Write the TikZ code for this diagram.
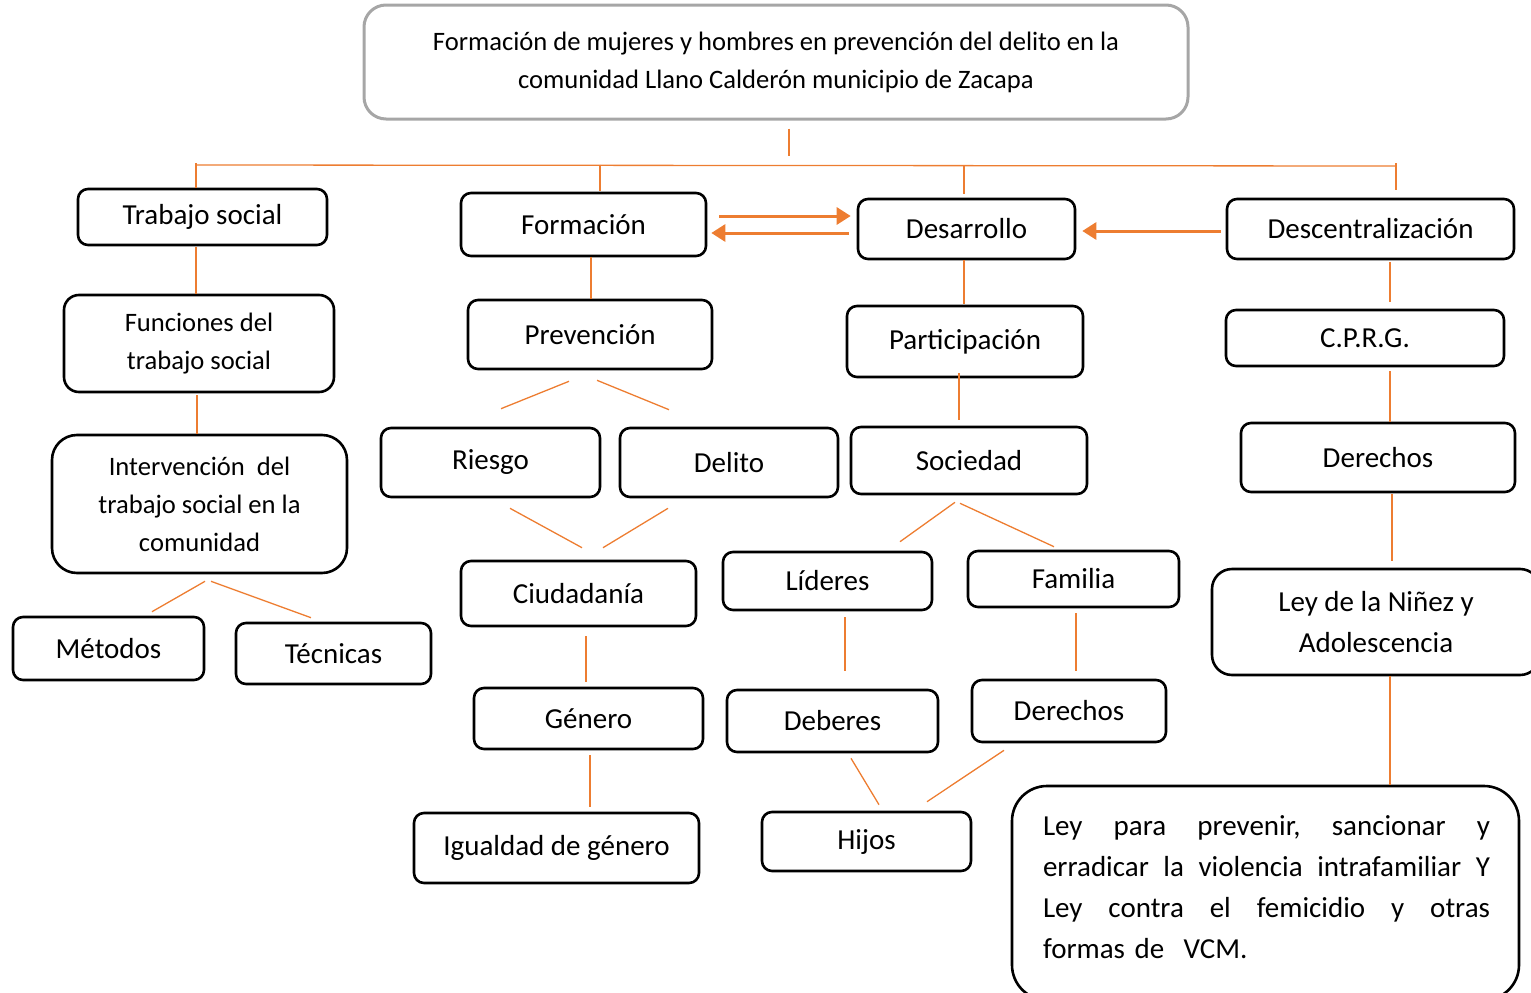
\documentclass[tikz,border=0pt]{standalone}
\usepackage{fontspec}
\setmainfont{Carlito}
\usetikzlibrary{calc,arrows.meta}
\definecolor{org}{HTML}{ED7D31}
\definecolor{tgray}{HTML}{A6A6A6}
\tikzset{
 box/.style={draw=black, line width=2.6pt, rounded corners=10pt, align=center, inner sep=0pt, font=\fontsize{29}{41}\selectfont},
 sbox/.style={box, font=\fontsize{26.6}{38}\selectfont},
 conn/.style={draw=org, line width=1.3pt},
 arr/.style={draw=org, line width=3pt, -{Triangle[length=14pt,width=17pt]}},
}
\begin{document}
\begin{tikzpicture}[x=1pt,y=-1pt]
\useasboundingbox (0,0) rectangle (1531,993);
% title
\node[draw=tgray, line width=3pt, rounded corners=22pt, minimum width=824pt, minimum height=114pt, align=center, inner sep=0pt, font=\fontsize{26.6}{38}\selectfont] (title) at (776,62) {Formación de mujeres y hombres en prevención del delito en la\\comunidad Llano Calderón municipio de Zacapa};
% level 1
\node[box, minimum width=249pt, minimum height=56pt] (trab) at (202.5,217) {Trabajo social};
\node[box, minimum width=245pt, minimum height=63pt] (form) at (583.5,224.5) {Formación};
\node[box, minimum width=217pt, minimum height=60pt] (des) at (966.5,229) {Desarrollo};
\node[box, minimum width=287pt, minimum height=60pt] (desc) at (1370.5,229) {Descentralización};
% level 2
\node[sbox, minimum width=270pt, minimum height=97pt, rounded corners=15pt] (func) at (199,343.5) {Funciones del\\trabajo social};
\node[box, minimum width=244pt, minimum height=69pt] (prev) at (590,334.5) {Prevención};
\node[box, minimum width=236pt, minimum height=71pt] (part) at (965,341.5) {Participación};
\node[box, minimum width=278pt, minimum height=56pt] (cprg) at (1365,338) {C.P.R.G.};
% level 3
\node[sbox, minimum width=295pt, minimum height=138pt, rounded corners=25pt] (inter) at (199.5,504) {Intervención\ \ del\\trabajo social en la\\comunidad};
\node[box, minimum width=219pt, minimum height=69pt] (ries) at (490.5,462.5) {Riesgo};
\node[box, minimum width=218pt, minimum height=69pt] (del) at (729,462.5) {Delito};
\node[box, minimum width=236pt, minimum height=67pt] (soc) at (969,460.5) {Sociedad};
\node[box, minimum width=274pt, minimum height=69pt] (der1) at (1378,457.5) {Derechos};
% level 4
\node[box, minimum width=191pt, minimum height=63pt] (met) at (108.5,648.5) {Métodos};
\node[box, minimum width=195pt, minimum height=61pt] (tec) at (333.5,653.5) {Técnicas};
\node[box, minimum width=235pt, minimum height=65pt] (ciud) at (578.5,593.5) {Ciudadanía};
\node[box, minimum width=209pt, minimum height=58pt] (lid) at (827.5,581) {Líderes};
\node[box, minimum width=211pt, minimum height=56pt] (fam) at (1073.5,579) {Familia};
\node[box, minimum width=328pt, minimum height=106pt, rounded corners=20pt] (nin) at (1376,622) {Ley de la Niñez y\\Adolescencia};
% level 5
\node[box, minimum width=229pt, minimum height=61pt] (gen) at (588.5,718.5) {Género};
\node[box, minimum width=211pt, minimum height=62pt] (deb) at (832.5,721) {Deberes};
\node[box, minimum width=194pt, minimum height=62pt] (der2) at (1069,711) {Derechos};
% level 6
\node[box, minimum width=285pt, minimum height=70pt] (igu) at (556.5,848) {Igualdad de género};
\node[box, minimum width=209pt, minimum height=59pt] (hij) at (866.5,841.5) {Hijos};
\node[box, minimum width=507pt, minimum height=214pt, rounded corners=35pt] (leybox) at (1265.5,893) {};
\node[inner sep=0pt, text width=447pt, align=left, font=\fontsize{29}{41}\selectfont] (leytxt) at (1266.5,887) {\makebox[447pt]{Ley\hfill para\hfill prevenir,\hfill sancionar\hfill y}\\\makebox[447pt]{erradicar\hfill la\hfill violencia\hfill intrafamiliar\hfill Y}\\\makebox[447pt]{Ley\hfill contra\hfill el\hfill femicidio\hfill y\hfill otras}\\formas de\ \ VCM.};
% top bracket
\coordinate (bl) at (196,165);
\coordinate (br) at (1396,166);
\draw[conn] ($(title.south)+(13,8)$) -- ++(0,27);
\draw[conn] (bl) -- (br);
\draw[conn] ($(bl)+(0,-2)$) -- ($(trab.north)+(-6.5,0)$);
\draw[conn] ($(form.north)+(16.5,-27)$) -- ($(form.north)+(16.5,-1)$);
\draw[conn] ($(des.north)+(-2.5,-32)$) -- ($(des.north)+(-2.5,-4)$);
\draw[conn] ($(br)+(0,-3)$) -- ($(desc.north)+(25.5,-8)$);
% arrows
\draw[arr] ($(form.east)+(12,-8.5)$) -- ($(des.west)+(-6,-13)$);
\draw[arr] ($(des.west)+(-8,4)$) -- ($(form.east)+(4,8.5)$);
\draw[arr] ($(desc.west)+(-5,2)$) -- ($(des.east)+(6,2)$);
% left column
\draw[conn] ($(trab.south)+(-6.5,1)$) -- ($(func.north)+(-3,0)$);
\draw[conn] ($(func.south)+(-2,2)$) -- ($(inter.north)+(-2.5,0)$);
\draw[conn] ($(inter.south)+(5.5,7)$) -- ($(met.north)+(43.5,-4)$);
\draw[conn] ($(inter.south)+(11.5,7)$) -- ($(tec.north)+(-22.5,-4)$);
% Formacion column
\draw[conn] ($(form.south)+(7.5,0)$) -- ($(prev.north)+(1,0)$);
\draw[conn] ($(prev.south)+(-21,11)$) -- ($(ries.north)+(10.5,-18)$);
\draw[conn] ($(prev.south)+(7,10)$) -- ($(del.north)+(-60,-17)$);
\draw[conn] ($(ries.south)+(19.5,10)$) -- ($(ciud.north)+(3.5,-12)$);
\draw[conn] ($(del.south)+(-61,10)$) -- ($(ciud.north)+(24.5,-12)$);
\draw[conn] ($(ciud.south)+(7.5,9)$) -- ($(gen.north)+(-2.5,-5)$);
\draw[conn] ($(gen.south)+(1.5,5)$) -- ($(igu.north)+(33.5,-5)$);
% Desarrollo column
\draw[conn] ($(des.south)+(-2.5,0)$) -- ($(part.north)+(-1,-1)$);
\draw[conn] ($(part.south)+(-6,-5)$) -- ($(soc.north)+(-10,-6)$);
\draw[conn] ($(soc.south)+(-14,7)$) -- ($(lid.north)+(72.5,-9)$);
\draw[conn] ($(soc.south)+(-9,8)$) -- ($(fam.north)+(-19.5,-3)$);
\draw[conn] ($(lid.south)+(17.5,6)$) -- ($(deb.north)+(12.5,-18)$);
\draw[conn] ($(fam.south)+(2.5,5)$) -- ($(der2.north)+(7,-8)$);
\draw[conn] ($(deb.south)+(18.5,5)$) -- ($(hij.north)+(12.5,-6)$);
\draw[conn] ($(der2.south)+(-65,7)$) -- ($(hij.north)+(60.5,-9)$);
% Descentralizacion column
\draw[conn] ($(desc.south)+(19.5,2)$) -- ($(cprg.north)+(25,-7)$);
\draw[conn] ($(cprg.south)+(25,4)$) -- ($(der1.north)+(12,0)$);
\draw[conn] ($(der1.south)+(14,1)$) -- ($(nin.north)+(16,-7)$);
\draw[conn] ($(nin.south)+(14,0)$) -- ($(leybox.north)+(124.5,0)$);
\end{tikzpicture}
\end{document}
